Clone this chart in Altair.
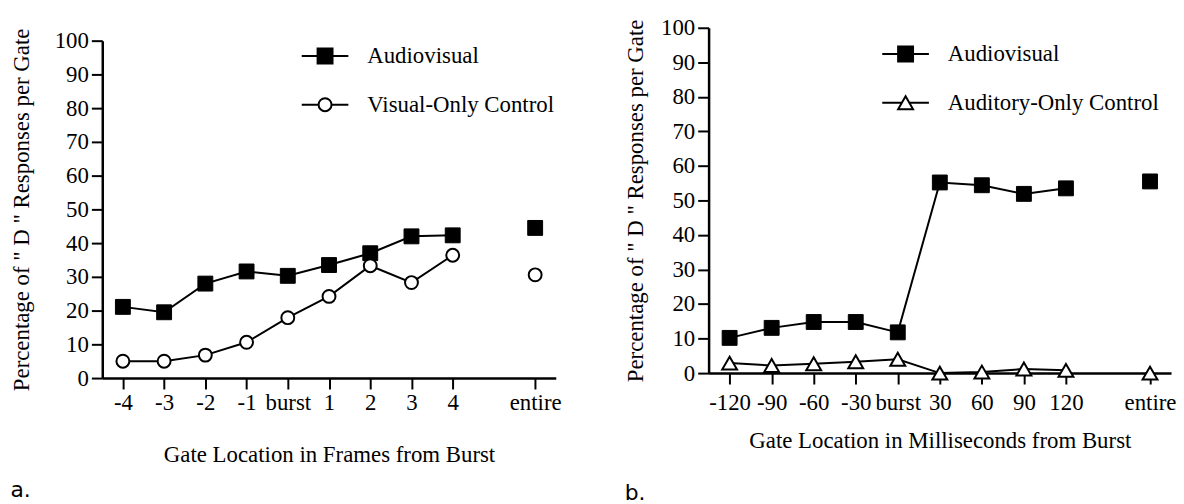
import json
import altair as alt
import pandas as pd

# ---------------- data ----------------
POS = [0, 1, 2, 3, 4, 5, 6, 7, 8, 10]

A_LABELS = ["-4", "-3", "-2", "-1", "burst", "1", "2", "3", "4", "entire"]
A_SERIES = ["Audiovisual", "Visual-Only Control"]
A_AV = [21.1, 19.5, 28.0, 31.6, 30.3, 33.5, 37.0, 42.0, 42.3, 44.5]
A_VO = [5.0, 5.0, 6.8, 10.6, 17.9, 24.2, 33.3, 28.3, 36.4, 30.6]

B_LABELS = ["-120", "-90", "-60", "-30", "burst", "30", "60", "90", "120", "entire"]
B_SERIES = ["Audiovisual", "Auditory-Only Control"]
B_AV = [10.2, 13.1, 14.8, 14.8, 11.8, 55.2, 54.4, 51.9, 53.5, 55.5]
B_AO = [2.9, 2.2, 2.7, 3.3, 4.0, 0.0, 0.3, 1.2, 0.8, 0.0]

Y_TITLE = 'Percentage of " D " Responses per Gate'
Y_TICKS = list(range(0, 101, 10))

FONT = "Liberation Serif"
FS = 23

# legend symbols (line through marker), unit box -1..1
SQ_PATH = "M-1,0H-0.32M0.32,0H1M-0.32,-0.32H0.32V0.32H-0.32Z"
CI_PATH = ("M-1,0H-0.277M0.277,0H1M0.277,0A0.277,0.277,0,1,1,-0.277,0"
           "A0.277,0.277,0,1,1,0.277,0Z")
TR_PATH = "M-1,0H-0.16M0.16,0H1M0,-0.277L0.32,0.277L-0.32,0.277Z"


def make_df(labels, pos, series, vals_list):
    rows = []
    for s, vals in zip(series, vals_list):
        for l, p, v in zip(labels, pos, vals):
            rows.append({"label": l, "pos": p, "series": s, "value": v})
    return pd.DataFrame(rows)


def label_expr(labels, pos):
    arr = [""] * (max(pos) + 1)
    for p, l in zip(pos, labels):
        arr[p] = l
    return json.dumps(arr) + "[datum.value]"


def panel(labels, series, vals_list, ctrl_shape, ctrl_size, ctrl_path,
          width, height, top_gap, xtitle, letter, leg_x, leg_y,
          ytp, xlp, xtp, letter_offset):
    df = make_df(labels, POS, series, vals_list)
    base = alt.Chart(df)
    total_h = height + top_gap
    x = alt.X("pos:Q",
              scale=alt.Scale(domain=[-0.5, 10.5], nice=False, zero=False),
              axis=alt.Axis(values=POS, labelExpr=label_expr(labels, POS),
                            title=xtitle, titlePadding=xtp, labelPadding=xlp,
                            labelFlush=False, labelOverlap=False))
    y = alt.Y("value:Q",
              scale=alt.Scale(domain=[0, 100], nice=False,
                              range=[total_h, top_gap]),
              axis=alt.Axis(values=Y_TICKS, title=Y_TITLE, titlePadding=ytp,
                            labelOverlap=False))
    lines = (base.transform_filter("datum.label != 'entire'")
             .mark_line(color="black", strokeWidth=2)
             .encode(x=x, y=y, detail="series:N"))
    pts1 = (base.transform_filter(alt.datum.series == series[0])
            .mark_point(shape="square", filled=True, fill="black",
                        stroke="black", strokeWidth=1, size=225, opacity=1)
            .encode(x=x, y=y))
    pts2 = (base.transform_filter(alt.datum.series == series[1])
            .mark_point(shape=ctrl_shape, filled=True, fill="white",
                        stroke="black", strokeWidth=2, size=ctrl_size,
                        opacity=1)
            .encode(x=x, y=y))
    leg = alt.Legend(orient="none", legendX=leg_x, legendY=leg_y,
                     padding=0, title=None,
                     labelFont=FONT, labelFontSize=FS, labelColor="black",
                     labelLimit=400, labelOffset=18,
                     symbolSize=2209, symbolStrokeWidth=2,
                     symbolStrokeColor="black", symbolOpacity=1,
                     rowPadding=12)
    legend_layer = (base.transform_filter("false")
                    .mark_point(filled=True, strokeWidth=2, opacity=1)
                    .encode(x=x, y=y,
                            shape=alt.Shape("series:N",
                                            scale=alt.Scale(domain=series,
                                                            range=[SQ_PATH, ctrl_path]),
                                            legend=leg),
                            fill=alt.Fill("series:N",
                                          scale=alt.Scale(domain=series,
                                                          range=["black", "white"]),
                                          legend=leg),
                            stroke=alt.Stroke("series:N",
                                              scale=alt.Scale(domain=series,
                                                              range=["black", "black"]),
                                              legend=leg)))
    return alt.layer(lines, pts1, pts2, legend_layer).properties(
        width=width, height=total_h,
        title=alt.TitleParams(letter, orient="bottom", anchor="start",
                              frame="bounds", offset=letter_offset,
                              font="DejaVu Sans", fontSize=22,
                              fontWeight="normal", color="black"))


left = panel(A_LABELS, A_SERIES, [A_AV, A_VO], "circle", 169, CI_PATH,
             457, 340, 13, "Gate Location in Frames from Burst", "a.",
             200, 4, 21, 3, 29, 14)
right = panel(B_LABELS, B_SERIES, [B_AV, B_AO], "triangle-up", 225, TR_PATH,
              466, 348, 0, "Gate Location in Milliseconds from Burst", "b.",
              174, 2, 13, 8, 15, 31)

chart = (alt.concat(left, right, columns=2, spacing=63)
         .resolve_scale(x="independent", y="independent",
                        shape="independent", fill="independent",
                        stroke="independent")
         .resolve_legend(shape="independent", fill="independent",
                         stroke="independent")
         .properties(padding={"left": 2, "top": 7, "right": 0, "bottom": 0})
         .configure_view(stroke=None)
         .configure_axis(domainColor="black", domainWidth=2.5,
                         tickColor="black", tickWidth=2, tickSize=11,
                         labelFont=FONT, labelFontSize=FS, labelColor="black",
                         labelPadding=3, titleFont=FONT, titleFontSize=FS,
                         titleFontWeight="normal", titleColor="black",
                         grid=False)
         .configure_axisX(labelAngle=0))

chart.save("out.html", embed_options={"renderer": "svg", "actions": False})
